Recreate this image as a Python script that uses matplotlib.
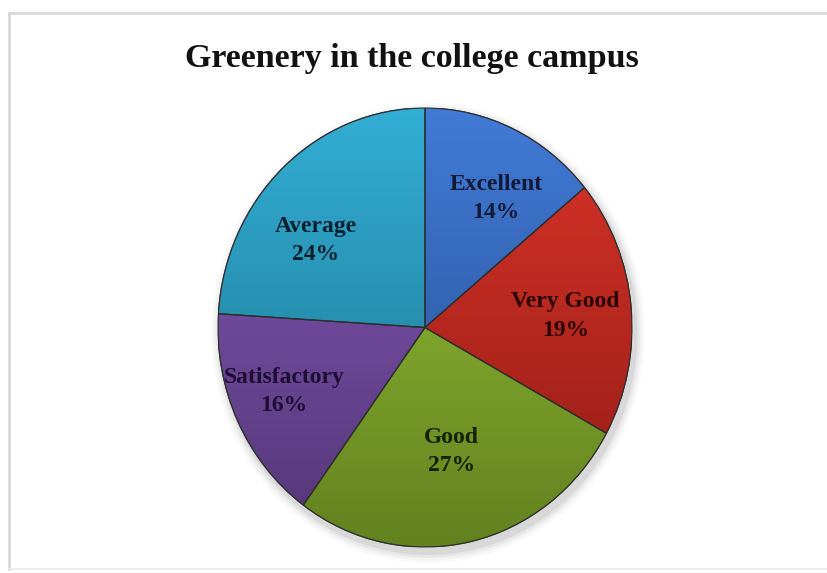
import numpy as np
import matplotlib
matplotlib.use("Agg")
import matplotlib.pyplot as plt
from matplotlib.lines import Line2D
from matplotlib.patches import PathPatch, Ellipse
from matplotlib.colors import to_rgb

categories = ["Excellent", "Very Good", "Good", "Satisfactory", "Average"]
shares = [14, 19, 27, 16, 24]
colors = ["#2f62b4", "#b8231a", "#7ea628", "#6c4599", "#2290b2"]
text_colors = ["#121a36", "#2a0604", "#142008", "#1e0c34", "#0a202e"]
# label placement (style): distance from centre and angular nudge in degrees
label_r = [0.68, 0.68, 0.58, 0.74, 0.66]
label_turn = [-5, -1, 0, -2, 10]

plt.rcParams["font.family"] = ["Liberation Serif", "DejaVu Serif"]

fig = plt.figure(figsize=(8.28, 5.73), dpi=100)
fig.patch.set_facecolor("white")

# light frame on left / top / bottom like the screenshot
fig.add_artist(Line2D([9 / 828, 9 / 828], [4 / 573, 560 / 573], color="#d8d8d8", lw=2))
fig.add_artist(Line2D([9 / 828, 1.0], [560 / 573, 560 / 573], color="#d8d8d8", lw=2))
fig.add_artist(Line2D([9 / 828, 1.0], [4 / 573, 4 / 573], color="#eeeeee", lw=1.5))

fig.text(412 / 828, 1 - 58 / 573, "Greenery in the college campus",
         ha="center", va="center", fontsize=24.5, fontweight="bold", color="#111111")

ax = fig.add_axes([218 / 828, 26 / 573, 414 / 828, 439 / 573])
ax.set_aspect("auto")

# soft shadow under the pie
for k, a in enumerate([0.06, 0.045, 0.03, 0.02]):
    sh = Ellipse((0.015, -0.025), 2 * (1.0 + 0.012 * (k + 1)), 2 * (1.0 + 0.012 * (k + 1)),
                 color="black", alpha=a, lw=0, clip_on=False)
    ax.add_patch(sh)

wedges, _ = ax.pie(shares, colors=colors, startangle=90, counterclock=False,
                   radius=1.0, wedgeprops=dict(edgecolor="#3a3a3a", linewidth=0.8))

# vertical gradient shading clipped to every wedge
grad = np.linspace(0, 1, 256).reshape(-1, 1)
for w, c in zip(wedges, colors):
    base = np.array(to_rgb(c))
    top = np.clip(base * 1.12 + 0.05, 0, 1)
    bot = base * 0.78
    img = top[None, None, :] * (1 - grad[:, :, None]) + bot[None, None, :] * grad[:, :, None]
    im = ax.imshow(img, extent=[-1, 1, -1, 1], origin="upper", aspect="auto", zorder=1.5)
    im.set_clip_path(w)
    w.set_zorder(1)
    w.set_facecolor("none")
    ax.add_patch(PathPatch(w.get_path(), transform=w.get_transform(),
                           fill=False, edgecolor="#2e2e2e", lw=0.9, zorder=2))

# labels inside each wedge
for w, name, v, tc, r, t in zip(wedges, categories, shares, text_colors, label_r, label_turn):
    mid = np.deg2rad((w.theta1 + w.theta2) / 2 + t)
    ax.text(r * np.cos(mid), r * np.sin(mid), f"{name}\n{v}%", ha="center", va="center",
            fontsize=17, fontweight="bold", color=tc, linespacing=1.45, zorder=3)

ax.set_xlim(-1.0, 1.0)
ax.set_ylim(-1.0, 1.0)
ax.axis("off")

fig.savefig("out.png", dpi=100, facecolor="white")
